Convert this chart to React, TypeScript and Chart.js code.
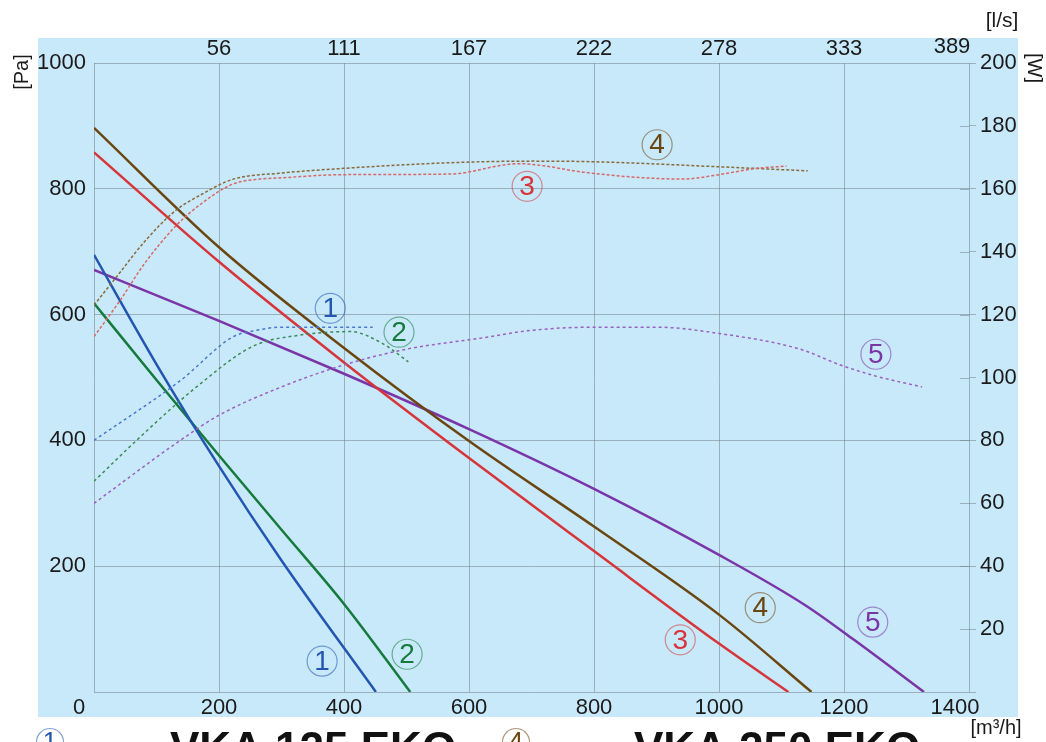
import React, { useEffect, useRef } from 'react';
import { Chart, registerables } from 'chart.js';

Chart.register(...registerables);

const FONT = '"Liberation Sans", Arial, Helvetica, sans-serif';
const TEXT = '#1a1a1a';
const GRID = 'rgba(110,120,130,0.5)';

// Airflow axis (m3/h) ticks
const xMin = 0;
const xMax = 1400;
const xStep = 200;
// Pressure axis (Pa) and power axis (W)
const paMax = 1000;
const paStep = 200;
const wMax = 200;
const wStep = 20;

// Pressure curves [m3/h, Pa]
const pressure1: [number, number][] = [[0, 695], [100, 521], [200, 359], [300, 209], [451, 0]];
const pressure2: [number, number][] = [[0, 618], [100, 496], [200, 376], [300, 258], [400, 140], [506, 0]];
const pressure3: [number, number][] = [[0, 858], [200, 684], [400, 524], [600, 372], [800, 224], [1000, 77], [1111, 0]];
const pressure4: [number, number][] = [[0, 897], [200, 707], [400, 547], [600, 399], [800, 263], [1000, 123], [1148, 0]];
const pressure5: [number, number][] = [[0, 671], [200, 590], [400, 506], [600, 418], [800, 323], [1000, 218], [1138, 138], [1216, 83], [1328, 0]];

// Power curves [m3/h, W]
const power1: [number, number][] = [[0, 80], [138, 99], [223, 113], [260, 115], [298, 116], [446, 116]];
const power2: [number, number][] = [[0, 67], [68, 80], [164, 97], [255, 110], [330, 113.5], [410, 114.6], [460, 111], [503, 105]];
const power3: [number, number][] = [[0, 113], [40, 124], [80, 136], [130, 148], [170, 155], [222, 161.5], [260, 163], [300, 163.5], [400, 164.5], [570, 164.7], [680, 168], [720, 167.3], [782, 165.3], [942, 163.1], [997, 164.4], [1060, 166.5], [1108, 167.2]];
const power4: [number, number][] = [[0, 123], [40, 133], [80, 143], [130, 153], [170, 158], [222, 163], [300, 165], [400, 166.5], [570, 168.3], [700, 168.8], [800, 168.6], [1000, 167], [1142, 165.7]];
const power5: [number, number][] = [[0, 60], [138, 80], [200, 88], [300, 97], [400, 104], [500, 109], [618, 112.5], [700, 115], [800, 116], [900, 116], [1000, 114], [1130, 109], [1194, 104], [1250, 100.5], [1325, 97]];

const solidColors = ['#2356b0', '#157a3c', '#d6353a', '#6b4610', '#7a35a8'];
const dashColors = ['#4a78c8', '#3a8a55', '#d86868', '#8a6a3a', '#9a60c0'];

// Circled curve numbers [label, m3/h, Pa]
const curveLabels: [string, number, number][] = [
  ['1', 378, 610], ['1', 365, 49],
  ['2', 488, 572], ['2', 501, 60],
  ['3', 693, 804], ['3', 938, 83],
  ['4', 901, 870], ['4', 1066, 134],
  ['5', 1251, 537], ['5', 1246, 111],
];

const modelTitles = ['VKA 125 EKO', 'VKA 250 EKO'];

const toXY = (arr: [number, number][]) => arr.map(([x, y]) => ({ x, y }));

function drawCircled(ctx: CanvasRenderingContext2D, text: string, cx: number, cy: number, r: number, color: string, size: number) {
  ctx.save();
  ctx.beginPath();
  ctx.arc(cx, cy, r, 0, Math.PI * 2);
  ctx.globalAlpha = 0.55;
  ctx.strokeStyle = color;
  ctx.lineWidth = 1.2;
  ctx.stroke();
  ctx.globalAlpha = 1;
  ctx.fillStyle = color;
  ctx.font = `${size}px ${FONT}`;
  ctx.textAlign = 'center';
  ctx.textBaseline = 'middle';
  ctx.fillText(text, cx, cy + 1);
  ctx.restore();
}

const decor = {
  id: 'decor',
  beforeDraw(chart: any) {
    const ctx = chart.ctx as CanvasRenderingContext2D;
    ctx.save();
    ctx.fillStyle = '#ffffff';
    ctx.fillRect(0, 0, chart.width, chart.height);
    ctx.fillStyle = 'rgb(200,233,250)';
    ctx.fillRect(38, 38, 980, 679);
    ctx.restore();
  },
  afterDraw(chart: any) {
    const ctx = chart.ctx as CanvasRenderingContext2D;
    const xs = chart.scales.x;
    const ys = chart.scales.y;
    ctx.save();
    ctx.fillStyle = TEXT;
    ctx.font = `22px ${FONT}`;
    ctx.textAlign = 'center';
    ctx.textBaseline = 'middle';
    // corner zero and shifted end labels
    ctx.fillText('0', xs.left - 15, ys.bottom + 16);
    ctx.fillText(String(xMax), xs.getPixelForValue(xMax) - 14, ys.bottom + 16);
    ctx.fillText(String(Math.round(xMax / 3.6)), xs.getPixelForValue(xMax) - 17, ys.top - 16);

    // right axis tick marks reaching into the plot
    ctx.strokeStyle = GRID;
    ctx.lineWidth = 1;
    for (let w = wStep; w < wMax; w += wStep) {
      const y = Math.round(chart.scales.y2.getPixelForValue(w)) + 0.5;
      ctx.beginPath();
      ctx.moveTo(xs.right - 9, y);
      ctx.lineTo(xs.right, y);
      ctx.stroke();
    }

    // unit titles
    ctx.font = `20px ${FONT}`;
    ctx.save();
    ctx.translate(22, 72);
    ctx.rotate(-Math.PI / 2);
    ctx.fillText('[Pa]', 0, 0);
    ctx.restore();
    ctx.save();
    ctx.translate(1034, 68);
    ctx.rotate(Math.PI / 2);
    ctx.fillText('[W]', 0, 0);
    ctx.restore();
    ctx.font = `21px ${FONT}`;
    ctx.fillText('[l/s]', 1002, 21);
    ctx.font = `20px ${FONT}`;
    ctx.fillText('[m³/h]', 996, 728);

    // curve numbers
    curveLabels.forEach(([t, v, p]) => {
      const i = Number(t) - 1;
      drawCircled(ctx, t, xs.getPixelForValue(v), ys.getPixelForValue(p), 15, solidColors[i], 28);
    });

    // model titles (cut at the bottom)
    ctx.font = `bold 44px ${FONT}`;
    ctx.textAlign = 'left';
    ctx.textBaseline = 'alphabetic';
    ctx.fillStyle = '#111';
    ctx.fillText(modelTitles[0], 170, 763);
    ctx.fillText(modelTitles[1], 634, 763);
    drawCircled(ctx, '1', 50, 742, 13.5, solidColors[0], 26);
    drawCircled(ctx, '4', 516, 742, 13.5, solidColors[3], 26);
    ctx.restore();
  },
};

export default function App() {
  const ref = useRef<HTMLCanvasElement | null>(null);
  useEffect(() => {
    if (!ref.current) return;
    const pressures = [pressure1, pressure2, pressure3, pressure4, pressure5];
    const powers = [power1, power2, power3, power4, power5];
    const datasets: any[] = [];
    powers.forEach((d, i) => {
      datasets.push({
        data: toXY(d),
        yAxisID: 'y2',
        xAxisID: 'x',
        borderColor: dashColors[i],
        borderWidth: 1.5,
        borderDash: i === 2 || i === 3 ? [3, 2] : [3, 3],
        pointRadius: 0,
        fill: false,
        cubicInterpolationMode: 'monotone',
      });
    });
    pressures.forEach((d, i) => {
      datasets.push({
        data: toXY(d),
        yAxisID: 'y',
        xAxisID: 'x',
        borderColor: solidColors[i],
        borderWidth: 2.5,
        pointRadius: 0,
        fill: false,
        cubicInterpolationMode: 'monotone',
      });
    });
    const tickFont = { family: FONT, size: 22 };
    const chart = new Chart(ref.current, {
      type: 'line',
      data: { datasets },
      plugins: [decor],
      options: {
        animation: false,
        responsive: false,
        layout: { padding: 0 },
        plugins: { legend: { display: false }, tooltip: { enabled: false } },
        scales: {
          x: {
            type: 'linear', position: 'bottom', min: xMin, max: xMax,
            ticks: { stepSize: xStep, font: tickFont, color: TEXT, padding: 3, maxRotation: 0, autoSkip: false,
              callback: (v: any) => (v === xMin || v === xMax ? '' : String(v)) },
            grid: { color: GRID, lineWidth: 1, drawTicks: false },
            border: { display: false },
            afterFit: (s: any) => { s.height = 50; },
          },
          x2: {
            type: 'linear', position: 'top', min: xMin, max: xMax,
            ticks: { stepSize: xStep, font: tickFont, color: TEXT, padding: -7, maxRotation: 0, autoSkip: false,
              callback: (v: any) => (v === xMin || v === xMax ? '' : String(Math.round(v / 3.6))) },
            grid: { display: false },
            border: { display: false },
            afterFit: (s: any) => { s.height = 63; },
          },
          y: {
            type: 'linear', position: 'left', min: 0, max: paMax,
            ticks: { stepSize: paStep, font: tickFont, color: TEXT, padding: 8,
              callback: (v: any) => (v === 0 ? '' : String(v)) },
            grid: { color: GRID, lineWidth: 1, drawTicks: false },
            border: { display: false },
            afterFit: (s: any) => { s.width = 94; },
          },
          y2: {
            type: 'linear', position: 'right', min: 0, max: wMax,
            ticks: { stepSize: wStep, font: tickFont, color: TEXT, padding: 4,
              callback: (v: any) => (v === 0 ? '' : String(v)) },
            grid: { drawOnChartArea: false, drawTicks: true, tickLength: 7, color: GRID, lineWidth: 1 },
            border: { display: false },
            afterFit: (s: any) => { s.width = 77; },
          },
        },
      } as any,
    });
    return () => chart.destroy();
  }, []);
  return (
    <div style={{ position: 'absolute', left: 0, top: 0, width: 1046, height: 742 }}>
      <canvas ref={ref} width={1046} height={742} />
    </div>
  );
}
